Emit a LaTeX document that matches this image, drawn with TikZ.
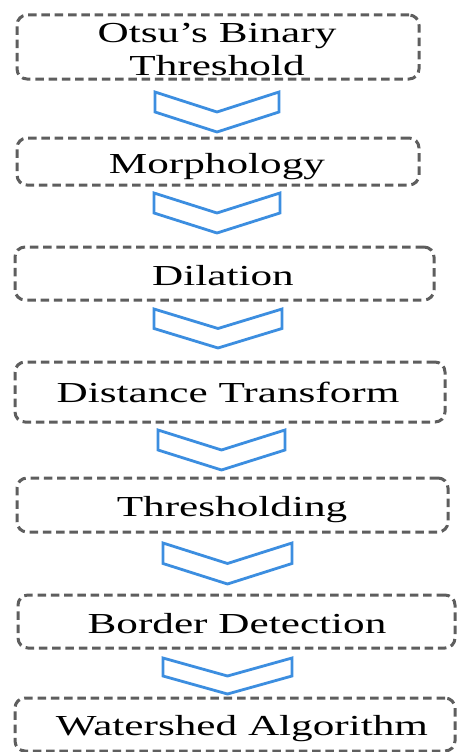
\documentclass[tikz,border=0pt]{standalone}
\usepackage{fontspec}
\setmainfont{Liberation Serif}
\definecolor{boxgray}{HTML}{5E5E5E}
\definecolor{chevblue}{HTML}{3C8EE0}
\newcommand{\stretchtxt}[1]{\scalebox{1.49}[1]{#1}}
\newcommand{\drawchev}[5]{% name, x1, x2, top, half
  \pgfmathsetmacro{\xm}{(#2+#3)/2}
  \draw[chev] (#2,#4) -- (#2,#4+#5) -- (\xm,#4+2*#5) -- (#3,#4+#5) -- (#3,#4) -- (\xm,#4+#5) -- cycle;
  \coordinate (#1) at (\xm,#4+#5);
}
\begin{document}
\begin{tikzpicture}[x=1pt,y=-1pt,
  stepbox/.style={draw=boxgray, line width=3pt, dash pattern=on 8.5pt off 4.8pt,
    rounded corners=10pt, rectangle, inner sep=0pt},
  lbl/.style={anchor=base, inner sep=0pt, font=\fontsize{29}{33}\selectfont, text=black},
  chev/.style={draw=chevblue, line width=2.8pt, line join=miter}]
\useasboundingbox (0,0) rectangle (457,752);
\clip (0,0) rectangle (457,752);
\fill[white] (0,0) rectangle (457,752);

\node[stepbox, minimum width=402pt, minimum height=64pt] (b1) at (218,47) {};
\node[stepbox, minimum width=402pt, minimum height=47pt] (b2) at (218,161.5) {};
\node[stepbox, minimum width=419pt, minimum height=53pt] (b3) at (224.5,273.5) {};
\node[stepbox, minimum width=430pt, minimum height=60pt] (b4) at (230,392) {};
\node[stepbox, minimum width=431pt, minimum height=54pt] (b5) at (232.5,505) {};
\node[stepbox, minimum width=437pt, minimum height=53pt] (b6) at (236.5,621.5) {};
\node[stepbox, minimum width=440pt, minimum height=53pt] (b7) at (235,724.5) {};

\node[lbl] (t1a) at (217,43) {\stretchtxt{Otsu’s Binary}};
\node[lbl] (t1b) at (217,76) {\stretchtxt{Threshold}};
\node[lbl] (t2) at (217,173) {\stretchtxt{Morphology}};
\node[lbl] (t3) at (223,285) {\stretchtxt{Dilation}};
\node[lbl] (t4) at (228,402) {\stretchtxt{Distance Transform}};
\node[lbl] (t5) at (232,516) {\stretchtxt{Thresholding}};
\node[lbl] (t6) at (237,633) {\stretchtxt{Border Detection}};
\node[lbl] (t7) at (242,735) {\stretchtxt{Watershed Algorithm}};

\drawchev{c1}{155}{279}{92}{20}
\drawchev{c2}{154}{280}{193}{20}
\drawchev{c3}{154}{282}{309}{19.5}
\drawchev{c4}{158}{285}{430}{20}
\drawchev{c5}{163}{292}{543}{20.5}
\drawchev{c6}{163}{292}{658}{18}
\end{tikzpicture}
\end{document}
